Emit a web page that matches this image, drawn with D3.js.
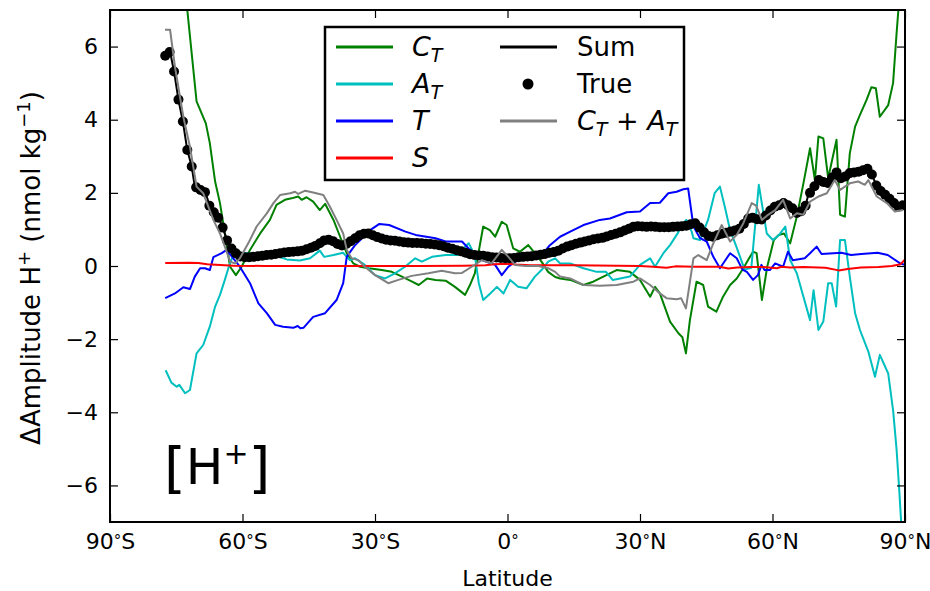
<!DOCTYPE html>
<html>
<head>
<meta charset="utf-8">
<script src="https://cdn.jsdelivr.net/npm/d3@7"></script>
<style>
  body { margin: 0; background: #fff; }
  text { font-family: "DejaVu Sans", sans-serif; }
</style>
</head>
<body>
<svg id="chart" width="930" height="591"></svg>
<script>
// ---- Amplitude change of [H+] decomposed by driver, vs latitude ----
// Each series: [latitude (deg), change in amplitude (nmol/kg)]

const ctPts = [[-77.5,9.3],[-75.3,8.8],[-73.4,7.5],[-72.5,7.0],[-70.4,4.50],[-68.3,3.90],[-67.4,3.36],[-66.2,2.31],[-65.1,1.72],[-64.0,0.89],[-62.8,-0.02],[-61.5,-0.25],[-60.2,-0.02],[-58.3,0.44],[-56.0,0.89],[-53.8,1.26],[-52.3,1.67],[-50.4,1.81],[-48.9,1.85],[-47.4,1.90],[-46.6,1.81],[-45.5,1.88],[-44.0,1.76],[-42.5,1.53],[-41.3,1.70],[-39.4,1.26],[-37.9,0.80],[-36.4,0.35],[-34.9,0.07],[-33.4,-0.02],[-31.4,-0.06],[-28.5,-0.11],[-26.2,-0.16],[-23.9,-0.29],[-21.6,-0.43],[-20.1,-0.52],[-18.2,-0.34],[-16.3,-0.38],[-14.0,-0.40],[-11.9,-0.57],[-9.6,-0.79],[-8.5,-0.52],[-7.4,-0.20],[-5.5,1.08],[-4.0,0.98],[-2.8,0.80],[-1.3,1.21],[-0.2,1.12],[1.3,0.48],[2.8,0.39],[4.7,0.57],[6.2,0.35],[7.7,0.12],[9.2,-0.16],[10.8,-0.30],[11.9,-0.34],[14.2,-0.38],[17.2,-0.52],[19.4,-0.43],[21.7,-0.29],[24.7,-0.11],[27.7,-0.16],[30.0,-0.38],[32.3,-0.84],[33.4,-0.57],[34.5,-0.75],[36.8,-1.52],[38.7,-1.84],[39.6,-1.95],[40.4,-2.39],[41.3,-1.48],[42.8,-0.43],[44.3,-0.52],[45.4,-1.11],[47.3,-1.25],[48.8,-0.84],[50.4,-0.52],[51.9,-0.34],[53.4,-0.06],[54.9,0.25],[55.6,0.39],[56.4,0.35],[57.6,-0.93],[58.8,-0.02],[60.3,0.71],[61.4,0.85],[62.6,0.89],[64.0,0.62],[65.5,1.35],[67.0,2.26],[68.5,3.22],[69.6,2.35],[70.4,3.54],[71.5,3.49],[72.6,2.40],[74.5,3.45],[75.3,1.40],[76.4,1.35],[77.5,3.08],[78.7,3.81],[79.8,4.13],[81.3,4.54],[82.4,4.89],[83.4,4.86],[84.3,4.08],[86.2,4.40],[87.3,5.0],[88.1,6.37],[88.5,7.0],[90.0,9.5]];

const atPts = [[-77.4,-2.85],[-76.1,-3.19],[-74.9,-3.30],[-74.3,-3.25],[-73.0,-3.48],[-71.9,-3.39],[-70.4,-2.39],[-68.9,-2.16],[-67.4,-1.66],[-66.2,-1.11],[-65.1,-0.79],[-64.0,-0.38],[-63.2,-0.06],[-62.4,0.21],[-61.3,0.35],[-59.0,0.35],[-56.0,0.36],[-53.0,0.30],[-50.0,0.18],[-47.0,0.15],[-44.7,0.21],[-42.5,0.42],[-41.5,0.25],[-39.4,0.30],[-37.2,0.36],[-35.7,0.16],[-34.5,0.21],[-32.3,0.03],[-30.0,-0.25],[-27.7,-0.34],[-25.5,-0.20],[-23.2,-0.02],[-20.9,0.21],[-19.4,0.12],[-17.1,0.25],[-14.0,0.30],[-11.3,0.30],[-10.3,0.44],[-8.8,0.62],[-7.4,0.30],[-6.5,-0.47],[-5.5,-0.93],[-3.9,-0.75],[-2.4,-0.57],[-0.9,-0.75],[0.6,-0.38],[2.4,-0.57],[4.3,-0.61],[6.2,-0.29],[7.7,-0.11],[9.2,0.12],[10.8,0.21],[11.9,0.07],[14.2,0.07],[17.2,-0.06],[20.2,-0.16],[22.3,-0.16],[23.8,-0.38],[25.5,-0.34],[27.7,-0.29],[30.0,0.03],[32.3,0.21],[33.4,-0.02],[35.3,0.35],[36.8,0.57],[38.3,0.85],[39.8,1.17],[40.5,1.26],[41.7,0.94],[42.1,0.76],[43.6,0.71],[45.4,1.26],[46.9,1.99],[48.1,2.17],[49.2,1.62],[50.4,0.98],[51.9,0.50],[53.7,-0.10],[55.2,-0.05],[56.9,2.22],[58.7,0.89],[60.1,0.71],[61.5,0.85],[62.9,1.08],[64.0,0.16],[65.5,-0.20],[68.5,-1.48],[69.3,-0.66],[70.4,-1.75],[71.5,-1.52],[72.6,-0.47],[73.4,-0.47],[74.4,-1.11],[75.3,0.71],[76.4,0.71],[77.5,-0.29],[78.7,-1.29],[79.8,-1.75],[81.7,-2.34],[83.2,-3.03],[84.3,-2.43],[86.2,-2.94],[87.3,-3.94],[88.1,-5.03],[88.7,-6.13],[89.1,-6.95],[90.0,-9.5]];

const tPts = [[-77.5,-0.88],[-75.3,-0.75],[-73.4,-0.58],[-71.9,-0.63],[-70.8,-0.29],[-69.6,-0.06],[-68.5,-0.06],[-67.4,-0.11],[-66.6,0.24],[-64.7,0.35],[-63.6,0.44],[-60.6,-0.02],[-58.3,-0.47],[-56.4,-1.02],[-54.5,-1.29],[-52.6,-1.61],[-50.8,-1.66],[-48.5,-1.69],[-47.5,-1.64],[-46.9,-1.70],[-46.2,-1.69],[-44.0,-1.39],[-41.3,-1.29],[-38.7,-0.93],[-37.2,-0.47],[-36.4,0.25],[-35.3,0.44],[-34.5,0.57],[-33.4,0.70],[-31.1,0.98],[-29.0,1.15],[-26.8,1.12],[-23.1,0.94],[-20.8,0.85],[-16.3,0.76],[-14.0,0.67],[-10.3,0.67],[-8.8,0.48],[-5.8,0.16],[-2.8,0.03],[-1.3,-0.25],[0.2,-0.02],[1.7,0.12],[4.7,0.21],[7.7,0.30],[9.6,0.57],[11.9,0.80],[14.2,0.94],[17.2,1.12],[20.9,1.26],[23.2,1.30],[27.0,1.47],[30.0,1.49],[32.3,1.72],[34.5,1.73],[36.4,1.99],[38.3,2.03],[39.8,2.10],[40.9,2.12],[42.1,1.08],[43.6,0.76],[45.1,0.67],[46.6,0.25],[48.1,-0.06],[50.4,0.35],[51.9,0.21],[53.2,-0.10],[54.2,-0.16],[55.6,-0.38],[56.7,-0.25],[57.5,0.03],[58.2,-0.11],[59.4,-0.11],[60.6,0.07],[62.4,-0.02],[63.5,0.39],[64.6,0.16],[67.3,0.21],[68.5,0.35],[70.0,0.53],[71.1,0.33],[75.6,0.36],[77.8,0.30],[80.1,0.33],[83.8,0.36],[86.1,0.30],[88.9,0.07],[90.0,0.03]];

const sPts = [[-77.5,0.08],[-72.0,0.09],[-70.0,0.08],[-68.0,0.05],[-65.0,0.03],[-62.0,0.01],[-55.0,0.0],[-45.0,0.0],[-35.0,0.0],[-20.0,0.0],[-10.0,0.01],[-5.0,0.02],[-3.0,0.05],[0.0,0.06],[2.0,0.04],[5.0,0.02],[15.0,0.02],[25.0,0.01],[30.0,0.0],[33.0,-0.02],[36.0,-0.05],[38.0,-0.01],[42.0,-0.02],[48.0,-0.02],[50.0,-0.07],[52.0,-0.04],[55.0,-0.03],[58.0,-0.03],[61.0,-0.06],[62.0,-0.02],[64.0,-0.04],[67.0,-0.03],[72.0,-0.05],[75.0,-0.12],[77.0,-0.08],[80.0,-0.04],[84.0,-0.03],[87.0,0.0],[89.0,0.05],[90.0,0.18]];

const sumPts = [[-77.4,5.77],[-76.4,5.86],[-75.5,5.32],[-74.5,4.54],[-73.5,3.95],[-72.5,3.17],[-71.5,2.72],[-70.75,2.13],[-69.6,2.08],[-68.3,1.99],[-67.4,1.62],[-66.2,1.44],[-65.3,1.30],[-64.3,0.98],[-63.2,0.62],[-62.1,0.44],[-60.6,0.25],[-58.3,0.25],[-54.5,0.30],[-50.0,0.39],[-46.2,0.44],[-43.2,0.57],[-40.9,0.73],[-39.4,0.67],[-37.9,0.55],[-35.7,0.67],[-33.4,0.85],[-31.6,0.89],[-30.0,0.80],[-27.1,0.71],[-23.2,0.65],[-19.4,0.62],[-15.7,0.57],[-11.9,0.44],[-8.1,0.30],[-4.3,0.25],[-0.6,0.21],[3.2,0.25],[7.0,0.30],[10.8,0.39],[13.4,0.53],[17.2,0.67],[20.9,0.76],[24.7,0.89],[28.5,1.08],[32.3,1.08],[36.0,1.06],[39.8,1.09],[42.1,1.17],[44.3,0.94],[45.8,0.80],[48.9,0.89],[51.9,0.98],[52.6,1.03],[54.9,1.32],[57.2,1.26],[60.2,1.62],[62.4,1.72],[64.0,1.62],[65.5,1.44],[67.4,1.62],[68.1,1.94],[69.2,2.13],[70.4,2.35],[72.3,2.26],[74.1,2.58],[75.7,2.35],[77.5,2.54],[79.4,2.58],[81.3,2.67],[82.5,2.49],[84.0,2.08],[86.2,1.85],[88.1,1.64],[89.6,1.67]];

// "True" change on a 1-degree grid, first point at 77.5 S
const trueStart = -77.5;
const trueVals = [
  5.75,5.85,5.32,4.55,3.95,3.17,2.72,2.15,2.08,2.02,
  1.65,1.47,1.32,1.05,0.70,0.48,0.35,0.26,0.24,0.24,
  0.25,0.27,0.28,0.30,0.31,0.33,0.35,0.37,0.38,0.39,
  0.40,0.42,0.46,0.50,0.55,0.62,0.70,0.72,0.68,0.60,
  0.56,0.60,0.68,0.76,0.84,0.88,0.89,0.84,0.79,0.75,
  0.72,0.70,0.69,0.67,0.65,0.64,0.63,0.63,0.62,0.61,
  0.60,0.59,0.57,0.54,0.50,0.47,0.43,0.40,0.36,0.32,
  0.30,0.29,0.28,0.26,0.24,0.23,0.22,0.21,0.21,0.22,
  0.24,0.25,0.26,0.27,0.29,0.31,0.33,0.36,0.38,0.42,
  0.48,0.53,0.57,0.61,0.64,0.67,0.70,0.73,0.75,0.77,
  0.81,0.85,0.88,0.92,0.97,1.02,1.07,1.09,1.08,1.07,
  1.08,1.07,1.06,1.06,1.06,1.07,1.08,1.09,1.10,1.14,
  1.17,1.05,0.92,0.82,0.80,0.84,0.88,0.91,0.94,0.97,
  1.02,1.15,1.30,1.32,1.28,1.27,1.38,1.52,1.62,1.66,
  1.72,1.66,1.58,1.45,1.50,1.65,2.00,2.18,2.35,2.30,
  2.27,2.42,2.56,2.40,2.45,2.54,2.56,2.58,2.62,2.66,
  2.50,2.20,2.05,1.95,1.84,1.72,1.62,1.66];

const ctAtPts = [[-77.55,6.46],[-76.4,6.46],[-75.3,5.45],[-73.4,4.08],[-71.9,3.26],[-70.4,2.17],[-68.9,1.99],[-66.6,1.26],[-65.1,0.89],[-64.0,0.53],[-62.8,0.12],[-61.7,0.07],[-60.6,0.21],[-58.7,0.62],[-56.8,1.08],[-54.5,1.44],[-53.0,1.72],[-51.5,1.94],[-49.2,1.99],[-48.1,2.03],[-47.4,1.97],[-45.8,2.06],[-44.0,2.01],[-41.7,1.94],[-40.2,1.62],[-38.7,1.26],[-37.2,0.89],[-36.4,0.44],[-35.3,0.21],[-33.8,0.16],[-32.3,-0.02],[-30.0,-0.25],[-27.0,-0.47],[-24.7,-0.38],[-21.7,-0.27],[-17.9,-0.20],[-14.9,-0.13],[-11.9,-0.20],[-10.3,-0.19],[-8.1,-0.02],[-5.8,0.16],[-3.6,0.07],[-1.3,0.44],[0.2,0.25],[1.7,0.03],[4.0,0.0],[7.0,0.0],[9.2,-0.06],[10.8,-0.16],[11.9,-0.29],[14.2,-0.34],[17.2,-0.52],[20.9,-0.54],[24.7,-0.52],[28.5,-0.43],[30.0,-0.34],[32.3,-0.52],[34.5,-0.75],[36.0,-0.88],[38.3,-0.91],[39.3,-0.88],[40.4,-1.16],[42.1,0.21],[43.2,0.30],[45.1,0.16],[46.6,0.62],[48.5,1.12],[50.4,0.67],[51.9,0.85],[53.4,1.17],[55.3,1.72],[56.3,1.65],[57.6,1.26],[59.0,1.40],[60.6,1.53],[62.4,1.81],[64.0,1.30],[65.5,1.44],[67.0,1.40],[68.5,1.76],[70.4,1.90],[72.3,1.99],[74.1,2.35],[75.3,2.08],[77.5,2.26],[79.4,2.31],[80.9,2.22],[81.7,2.35],[83.6,1.90],[85.9,1.72],[87.7,1.49],[89.6,1.53]];

// Axis ticks
const xTicks = [-90, -60, -30, 0, 30, 60, 90];
const yTicks = [-6, -4, -2, 0, 2, 4, 6];

// ---- layout ----
const svg = d3.select("#chart");
const plot = { left: 110, right: 905, top: 10, bottom: 522 };
const x = d3.scaleLinear().domain([-90, 90]).range([plot.left, plot.right]);
const y = d3.scaleLinear().domain([-7, 7]).range([plot.bottom, plot.top]);

svg.append("rect").attr("width", 930).attr("height", 591).attr("fill", "#fff");

svg.append("clipPath").attr("id", "plotClip")
  .append("rect")
  .attr("x", plot.left).attr("y", plot.top)
  .attr("width", plot.right - plot.left).attr("height", plot.bottom - plot.top);

const g = svg.append("g").attr("clip-path", "url(#plotClip)");
const line = d3.line().x(d => x(d[0])).y(d => y(d[1]));

const series = [
  { pts: ctPts,   color: "#008000" },
  { pts: atPts,   color: "#00bfbf" },
  { pts: tPts,    color: "#0000ff" },
  { pts: sPts,    color: "#ff0000" },
  { pts: sumPts,  color: "#000000" }
];
series.forEach(s => {
  g.append("path").datum(s.pts)
    .attr("d", line).attr("fill", "none")
    .attr("stroke", s.color).attr("stroke-width", 2)
    .attr("stroke-linejoin", "round");
});

// True values as dots
const truePts = trueVals.map((v, i) => [trueStart + i, v]);
g.selectAll("circle.true").data(truePts).join("circle")
  .attr("class", "true")
  .attr("cx", d => x(d[0])).attr("cy", d => y(d[1]))
  .attr("r", 5).attr("fill", "#000");

// C_T + A_T on top
g.append("path").datum(ctAtPts)
  .attr("d", line).attr("fill", "none")
  .attr("stroke", "#808080").attr("stroke-width", 2)
  .attr("stroke-linejoin", "round");

// ---- axes (ticks pointing inward on all four sides) ----
const fs = 22;
const degFmt = d => d === 0 ? "0" : String(Math.abs(d));
const hemi = d => d === 0 ? "" : (d < 0 ? "S" : "N");

const xAxis = svg.append("g").attr("transform", `translate(0,${plot.bottom})`)
  .call(d3.axisBottom(x).tickValues(xTicks).tickSizeInner(-8).tickSizeOuter(0).tickPadding(11).tickFormat(""));
xAxis.selectAll(".tick text").each(function(d) {
  const t = d3.select(this);
  t.append("tspan").text(degFmt(d));
  t.append("tspan").attr("font-size", 15).attr("dy", -3).text("°");
  t.append("tspan").attr("dy", 3).text(hemi(d));
});
svg.append("g").attr("transform", `translate(0,${plot.top})`)
  .call(d3.axisTop(x).tickValues(xTicks).tickSizeInner(-8).tickSizeOuter(0).tickFormat(""));

svg.append("g").attr("transform", `translate(${plot.left},0)`)
  .call(d3.axisLeft(y).tickValues(yTicks).tickSizeInner(-8).tickSizeOuter(0).tickPadding(12));
svg.append("g").attr("transform", `translate(${plot.right},0)`)
  .call(d3.axisRight(y).tickValues(yTicks).tickSizeInner(-8).tickSizeOuter(0).tickFormat(""));

svg.selectAll(".domain").remove();
svg.selectAll(".tick line").attr("stroke", "#000").attr("stroke-width", 1.2);
svg.selectAll(".tick text").attr("font-size", fs).attr("fill", "#000")
  .attr("font-family", "DejaVu Sans");

// frame
svg.append("rect")
  .attr("x", plot.left).attr("y", plot.top)
  .attr("width", plot.right - plot.left).attr("height", plot.bottom - plot.top)
  .attr("fill", "none").attr("stroke", "#000").attr("stroke-width", 2);

// axis labels
svg.append("text")
  .attr("x", (plot.left + plot.right) / 2).attr("y", 586)
  .attr("text-anchor", "middle").attr("font-size", fs).text("Latitude");

const yl = svg.append("text")
  .attr("transform", `translate(40,${(plot.top + plot.bottom) / 2 + 2}) rotate(-90)`)
  .attr("text-anchor", "middle").attr("font-size", 26);
yl.append("tspan").text("ΔAmplitude H");
yl.append("tspan").attr("font-size", 18).attr("dy", -10).text("+");
yl.append("tspan").attr("dy", 10).text("  (nmol kg");
yl.append("tspan").attr("font-size", 18).attr("dy", -10).text("−1");
yl.append("tspan").attr("dy", 10).text(")");

// panel tag
const tag = svg.append("text").attr("x", 164).attr("y", 484).attr("font-size", 50);
tag.append("tspan").attr("font-size", 56).attr("dy", 3).text("[");
tag.append("tspan").attr("dy", -3).text("H");
tag.append("tspan").attr("font-size", 30).attr("dy", -20).text("+");
tag.append("tspan").attr("font-size", 56).attr("dy", 23).text("]");

// ---- legend ----
const leg = svg.append("g");
leg.append("rect").attr("x", 325).attr("y", 27).attr("width", 359).attr("height", 153)
  .attr("fill", "#fff").attr("stroke", "#000").attr("stroke-width", 2.5);

const rowY = [47, 84, 121, 158];
const mathFont = "'Liberation Serif', serif";

function mathLabel(xp, yp, parts) {
  const t = leg.append("text").attr("x", xp).attr("y", yp + 9)
    .attr("font-family", mathFont).attr("font-size", 27);
  let shifted = false;
  parts.forEach(p => {
    const ts = t.append("tspan").text(p.s);
    if (p.italic) ts.attr("font-style", "italic");
    if (p.sub) { ts.attr("font-size", 19).attr("dy", 6); shifted = true; }
    else if (shifted) { ts.attr("dy", -6); shifted = false; }
  });
}

const leftEntries = [
  { color: "#008000", label: [{ s: "C", italic: true }, { s: "T", italic: true, sub: true }] },
  { color: "#00bfbf", label: [{ s: "A", italic: true }, { s: "T", italic: true, sub: true }] },
  { color: "#0000ff", label: [{ s: "T", italic: true }] },
  { color: "#ff0000", label: [{ s: "S", italic: true }] }
];
leftEntries.forEach((e, i) => {
  leg.append("line").attr("x1", 336).attr("x2", 393).attr("y1", rowY[i]).attr("y2", rowY[i])
    .attr("stroke", e.color).attr("stroke-width", 3);
  mathLabel(412, rowY[i], e.label);
});

leg.append("line").attr("x1", 500).attr("x2", 557).attr("y1", rowY[0]).attr("y2", rowY[0])
  .attr("stroke", "#000").attr("stroke-width", 3);
leg.append("text").attr("x", 577).attr("y", rowY[0] + 9).attr("font-size", 26).text("Sum");
leg.append("circle").attr("cx", 528).attr("cy", rowY[1]).attr("r", 5.5).attr("fill", "#000");
leg.append("text").attr("x", 577).attr("y", rowY[1] + 9).attr("font-size", 26).text("True");
leg.append("line").attr("x1", 500).attr("x2", 557).attr("y1", rowY[2]).attr("y2", rowY[2])
  .attr("stroke", "#808080").attr("stroke-width", 3);
mathLabel(577, rowY[2], [
  { s: "C", italic: true }, { s: "T", italic: true, sub: true },
  { s: " + " }, { s: "A", italic: true }, { s: "T", italic: true, sub: true }
]);
</script>
</body>
</html>
